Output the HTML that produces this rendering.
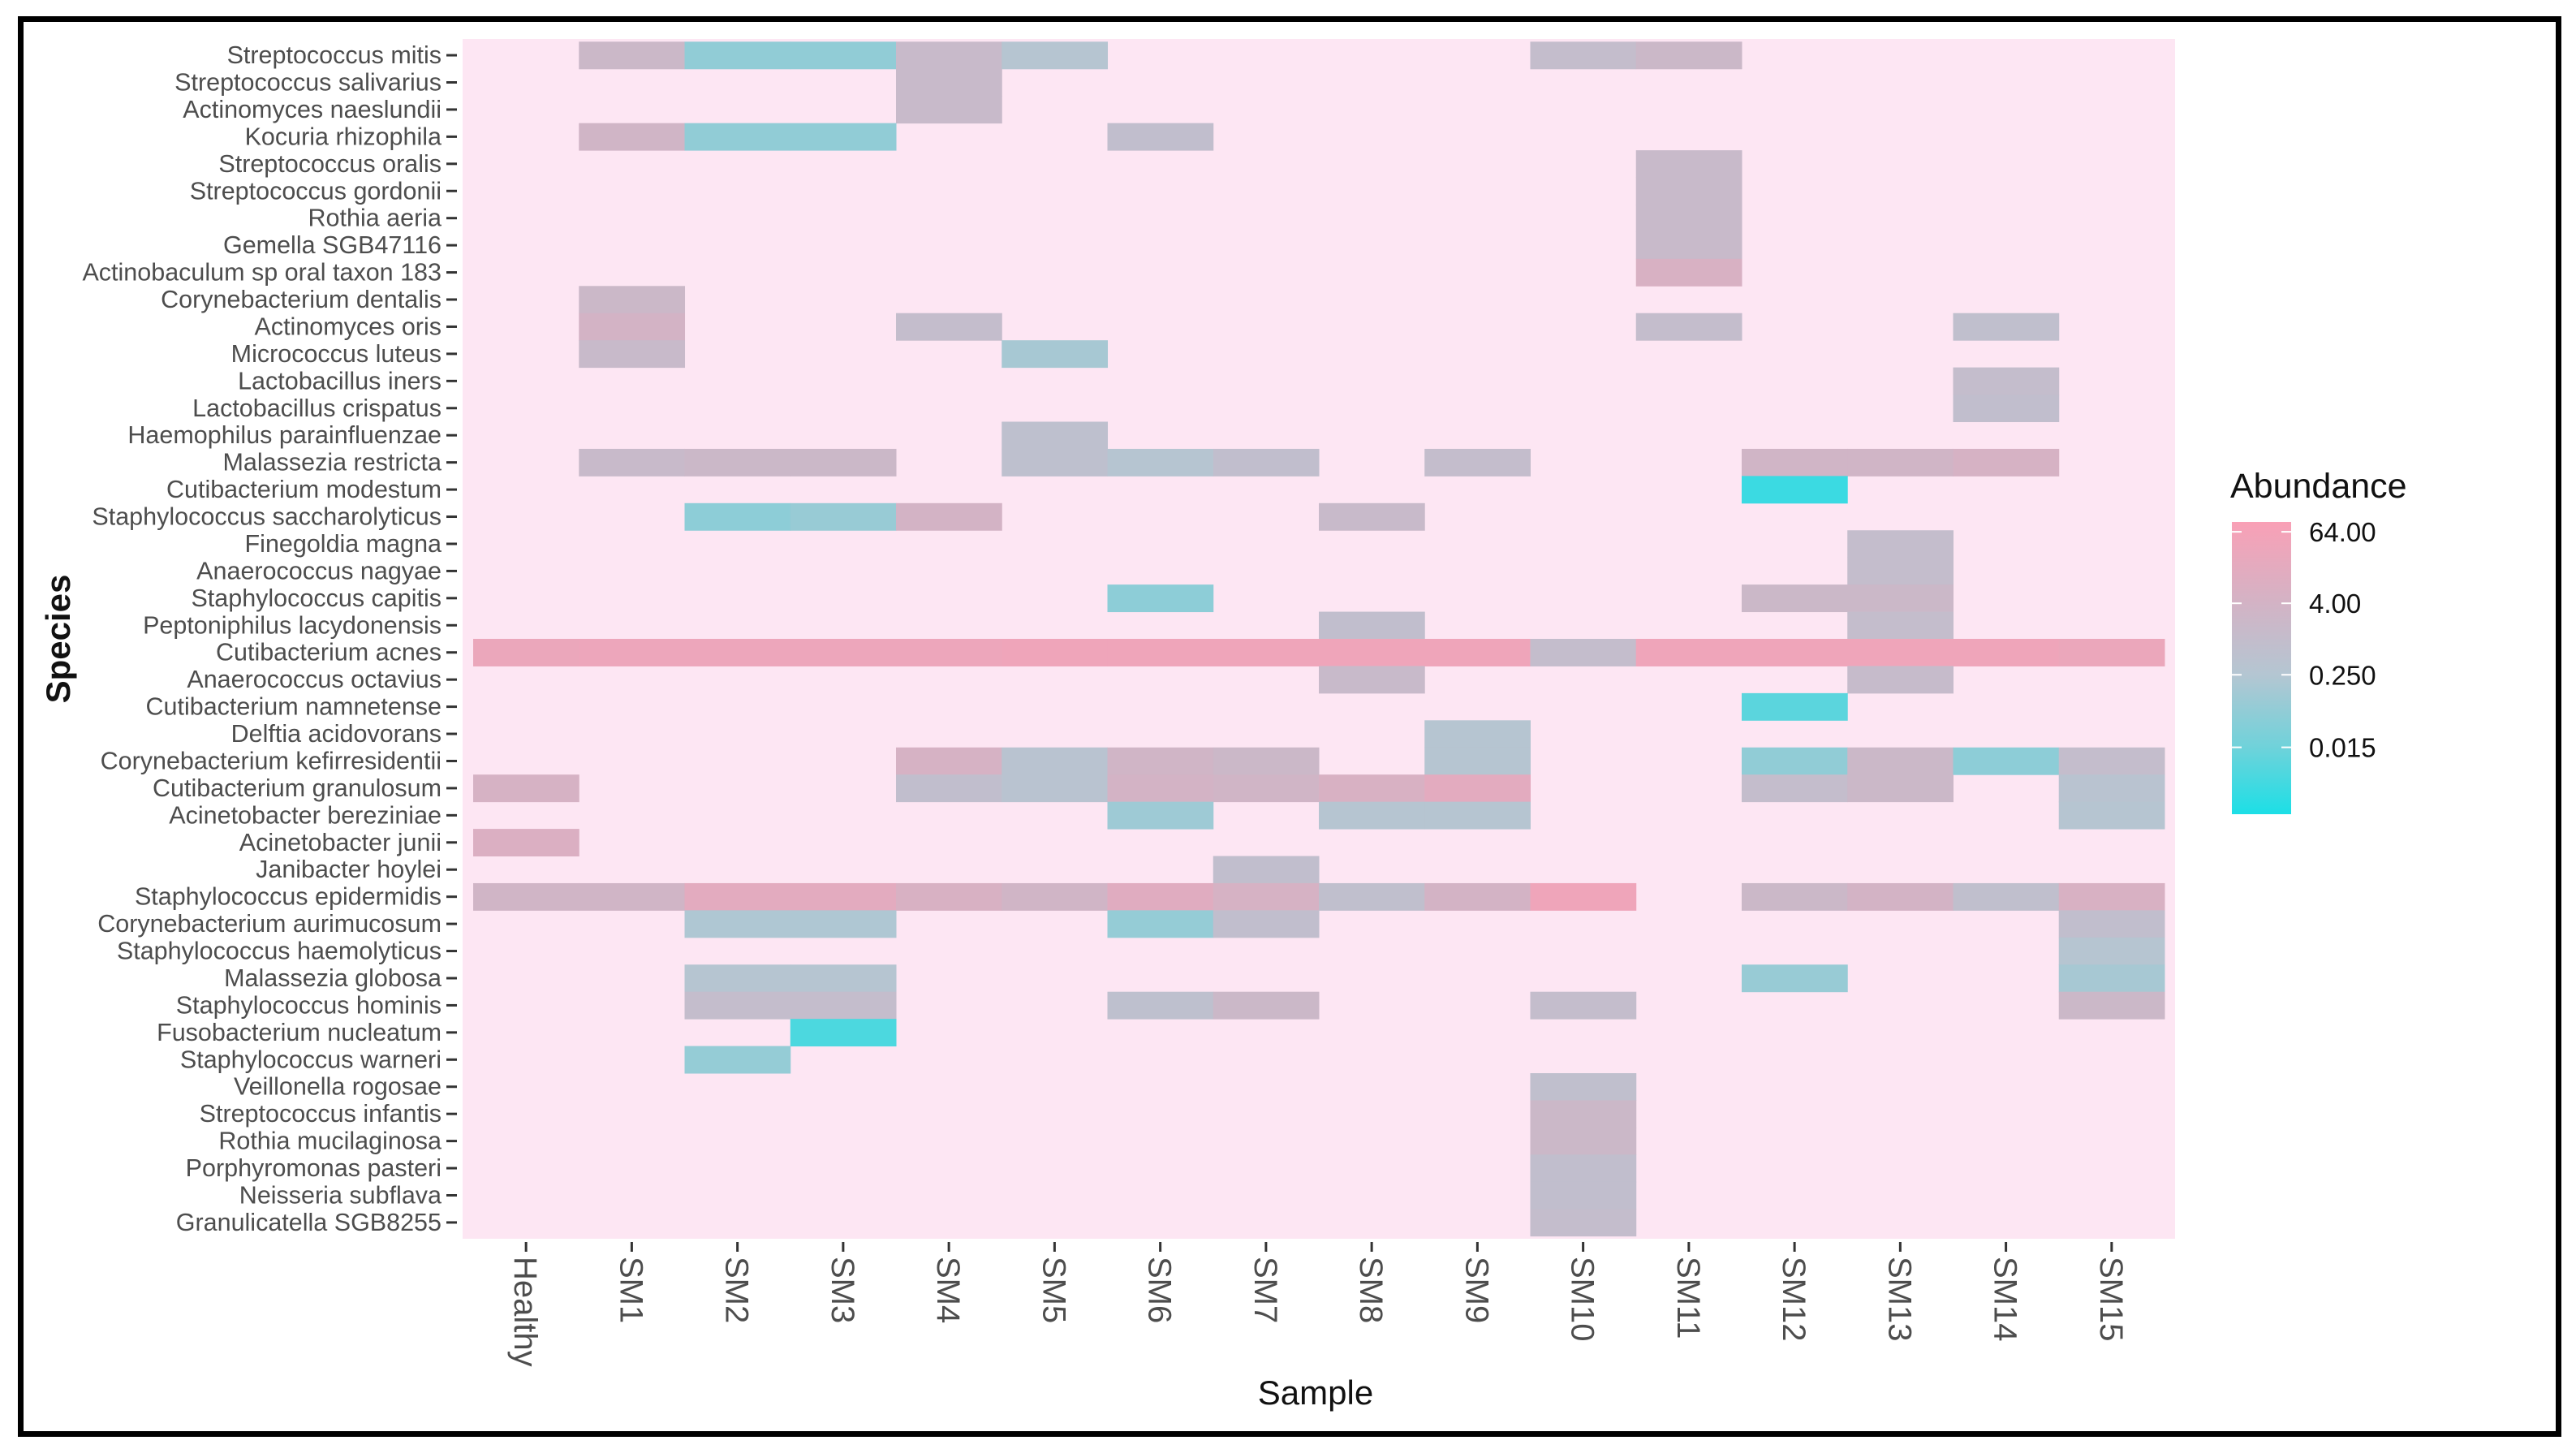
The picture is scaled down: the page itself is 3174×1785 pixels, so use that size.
<!DOCTYPE html>
<html><head><meta charset="utf-8"><style>
html,body{margin:0;padding:0;background:#fff;}
svg{display:block;font-family:"Liberation Sans",sans-serif;}
</style></head><body>
<svg id="chart" width="3174" height="1785" viewBox="0 0 3174 1785" xmlns="http://www.w3.org/2000/svg">
<rect x="25.5" y="23.5" width="3127" height="1743" fill="#fff" stroke="#000" stroke-width="7"/>
<rect x="570" y="48" width="2110" height="1478" fill="#fde6f3"/>
<g id="cells"></g>
<g id="yaxis"></g>
<g id="xaxis"></g>
<text x="1621" y="1730" font-size="42" text-anchor="middle" fill="#111">Sample</text>
<text transform="translate(86,787) rotate(-90)" font-size="42" font-weight="bold" text-anchor="middle" fill="#111">Species</text>
<g>
<defs><linearGradient id="lg" x1="0" y1="1" x2="0" y2="0">
<stop offset="0" stop-color="#1cdfe6"/><stop offset="0.232" stop-color="#70d2da"/><stop offset="0.477" stop-color="#b4c6d2"/><stop offset="0.722" stop-color="#d3b3c5"/><stop offset="1" stop-color="#f9a0b6"/>
</linearGradient></defs>
<text x="2748" y="613" font-size="43" fill="#111">Abundance</text>
<rect x="2750" y="643" width="73" height="360" fill="url(#lg)"/>
<g id="legendticks"></g>
</g>
</svg>
<script>
const species=["Streptococcus mitis","Streptococcus salivarius","Actinomyces naeslundii","Kocuria rhizophila","Streptococcus oralis","Streptococcus gordonii","Rothia aeria","Gemella SGB47116","Actinobaculum sp oral taxon 183","Corynebacterium dentalis","Actinomyces oris","Micrococcus luteus","Lactobacillus iners","Lactobacillus crispatus","Haemophilus parainfluenzae","Malassezia restricta","Cutibacterium modestum","Staphylococcus saccharolyticus","Finegoldia magna","Anaerococcus nagyae","Staphylococcus capitis","Peptoniphilus lacydonensis","Cutibacterium acnes","Anaerococcus octavius","Cutibacterium namnetense","Delftia acidovorans","Corynebacterium kefirresidentii","Cutibacterium granulosum","Acinetobacter bereziniae","Acinetobacter junii","Janibacter hoylei","Staphylococcus epidermidis","Corynebacterium aurimucosum","Staphylococcus haemolyticus","Malassezia globosa","Staphylococcus hominis","Fusobacterium nucleatum","Staphylococcus warneri","Veillonella rogosae","Streptococcus infantis","Rothia mucilaginosa","Porphyromonas pasteri","Neisseria subflava","Granulicatella SGB8255"];
const samples=["Healthy","SM1","SM2","SM3","SM4","SM5","SM6","SM7","SM8","SM9","SM10","SM11","SM12","SM13","SM14","SM15"];
// abundance per species, per sample (0 = absent)
const abundance=[
[0,2,0.06,0.06,1.5,0.3,0,0,0,0,1,2,0,0,0,0],
[0,0,0,0,1.5,0,0,0,0,0,0,0,0,0,0,0],
[0,0,0,0,1.5,0,0,0,0,0,0,0,0,0,0,0],
[0,3,0.06,0.06,0,0,0.8,0,0,0,0,0,0,0,0,0],
[0,0,0,0,0,0,0,0,0,0,0,1.5,0,0,0,0],
[0,0,0,0,0,0,0,0,0,0,0,1.5,0,0,0,0],
[0,0,0,0,0,0,0,0,0,0,0,1.5,0,0,0,0],
[0,0,0,0,0,0,0,0,0,0,0,1.5,0,0,0,0],
[0,0,0,0,0,0,0,0,0,0,0,6,0,0,0,0],
[0,2,0,0,0,0,0,0,0,0,0,0,0,0,0,0],
[0,4,0,0,1,0,0,0,0,0,0,1,0,0,0.7,0],
[0,1.5,0,0,0,0.15,0,0,0,0,0,0,0,0,0,0],
[0,0,0,0,0,0,0,0,0,0,0,0,0,0,1,0],
[0,0,0,0,0,0,0,0,0,0,0,0,0,0,0.8,0],
[0,0,0,0,0,0.6,0,0,0,0,0,0,0,0,0,0],
[0,1.5,2,2,0,0.6,0.3,0.8,0,1,0,0,3,3,5,0],
[0,0,0,0,0,0,0,0,0,0,0,0,0.003,0,0,0],
[0,0,0.05,0.08,4,0,0,0,1.5,0,0,0,0,0,0,0],
[0,0,0,0,0,0,0,0,0,0,0,0,0,1,0,0],
[0,0,0,0,0,0,0,0,0,0,0,0,0,1,0,0],
[0,0,0,0,0,0,0.05,0,0,0,0,0,2,2,0,0],
[0,0,0,0,0,0,0,0,0.8,0,0,0,0,1,0,0],
[30,35,35,35,35,40,40,40,40,40,1,40,40,40,40,30],
[0,0,0,0,0,0,0,0,1.5,0,0,0,0,1.2,0,0],
[0,0,0,0,0,0,0,0,0,0,0,0,0.008,0,0,0],
[0,0,0,0,0,0,0,0,0,0.3,0,0,0,0,0,0],
[0,0,0,0,5,0.4,3,2,0,0.3,0,0,0.06,2,0.05,1],
[5,0,0,0,0.8,0.4,4,3,6,15,0,0,1,2,0,0.4],
[0,0,0,0,0,0,0.1,0,0.3,0.3,0,0,0,0,0,0.3],
[8,0,0,0,0,0,0,0,0,0,0,0,0,0,0,0],
[0,0,0,0,0,0,0,0.8,0,0,0,0,0,0,0,0],
[3,3,15,15,6,3,12,5,0.7,4,40,0,2,4,0.7,6],
[0,0,0.2,0.2,0,0,0.07,0.8,0,0,0,0,0,0,0,0.8],
[0,0,0,0,0,0,0,0,0,0,0,0,0,0,0,0.3],
[0,0,0.3,0.3,0,0,0,0,0,0,0,0,0.08,0,0,0.15],
[0,0,1,1,0,0,0.6,2,0,0,1,0,0,0,0,2],
[0,0,0,0.005,0,0,0,0,0,0,0,0,0,0,0,0],
[0,0,0.07,0,0,0,0,0,0,0,0,0,0,0,0,0],
[0,0,0,0,0,0,0,0,0,0,0.7,0,0,0,0,0],
[0,0,0,0,0,0,0,0,0,0,2,0,0,0,0,0],
[0,0,0,0,0,0,0,0,0,0,2,0,0,0,0,0],
[0,0,0,0,0,0,0,0,0,0,0.8,0,0,0,0,0],
[0,0,0,0,0,0,0,0,0,0,0.8,0,0,0,0,0],
[0,0,0,0,0,0,0,0,0,0,1,0,0,0,0,0]];
const legendTicks=[64,4,0.25,0.015];
const legendLabels=["64.00","4.00","0.250","0.015"];

const NS="http://www.w3.org/2000/svg";
const PX0=570,PX1=2680,PY0=48,PY1=1526;
const xStep=(PX1-PX0)/(samples.length-1+1.2);
const yStep=(PY1-PY0)/(species.length-1+1.2);
function xPos(i){return PX0+(0.6+i)*xStep;}
function yPos(j){return PY0+(0.6+j)*yStep;}
const LMIN=-9.8,LMAX=6.55;
function legY(v){return 1003-(Math.log2(v)-LMIN)/(LMAX-LMIN)*360;}
const stops=[[-9.8,[28,223,230]],[-6,[112,210,218]],[-2,[180,198,210]],[2,[211,179,197]],[6.55,[249,160,182]]];
function color(v){
  let l=Math.max(LMIN,Math.min(LMAX,Math.log2(v)));
  for(let k=0;k<stops.length-1;k++){
    const a=stops[k],b=stops[k+1];
    if(l<=b[0]){const t=(l-a[0])/(b[0]-a[0]);
      const c=a[1].map((x,i)=>Math.round(x+(b[1][i]-x)*t));
      return "rgb("+c.join(",")+")";}
  }
  return "rgb(249,160,182)";
}
const cells=document.getElementById('cells');
abundance.forEach((row,j)=>{row.forEach((v,i)=>{
  if(!v) return;
  const r=document.createElementNS(NS,'rect');
  
  
  r.setAttribute('x',xPos(i)-xStep/2);r.setAttribute('y',yPos(j)-yStep/2);
  r.setAttribute('width',xStep+0.5);r.setAttribute('height',yStep+0.5);
  r.setAttribute('fill',color(v));
  cells.appendChild(r);
});});
const ya=document.getElementById('yaxis');
species.forEach((s,j)=>{
  const t=document.createElementNS(NS,'text');
  
  
  t.setAttribute('x',544);t.setAttribute('y',yPos(j)+10);
  t.setAttribute('font-size','30.5');t.setAttribute('text-anchor','end');t.setAttribute('fill','#4d4d4d');
  t.textContent=s;ya.appendChild(t);
  const l=document.createElementNS(NS,'line');
  
  
  l.setAttribute('x1',550);l.setAttribute('x2',563);l.setAttribute('y1',yPos(j));l.setAttribute('y2',yPos(j));
  l.setAttribute('stroke','#333');l.setAttribute('stroke-width','3');ya.appendChild(l);
});
const xa=document.getElementById('xaxis');
samples.forEach((s,i)=>{
  const l=document.createElementNS(NS,'line');
  
  
  l.setAttribute('x1',xPos(i));l.setAttribute('x2',xPos(i));l.setAttribute('y1',1530);l.setAttribute('y2',1542);
  l.setAttribute('stroke','#333');l.setAttribute('stroke-width','3');xa.appendChild(l);
  const t=document.createElementNS(NS,'text');
  
  
  t.setAttribute('transform','translate('+(xPos(i)-14)+',1548) rotate(90)');
  t.setAttribute('font-size','40');t.setAttribute('fill','#4d4d4d');
  t.textContent=s;xa.appendChild(t);
});
const lt=document.getElementById('legendticks');
legendTicks.forEach((v,k)=>{
  const y=legY(v);
  [[2750,2762],[2811,2823]].forEach(p=>{
    const l=document.createElementNS(NS,'line');
    
    
    l.setAttribute('x1',p[0]);l.setAttribute('x2',p[1]);l.setAttribute('y1',y);l.setAttribute('y2',y);
    l.setAttribute('stroke','#fff');l.setAttribute('stroke-width','2');lt.appendChild(l);
  });
  const t=document.createElementNS(NS,'text');
  
  
  t.setAttribute('x',2845);t.setAttribute('y',y+12);
  t.setAttribute('font-size','33');t.setAttribute('fill','#111');
  t.textContent=legendLabels[k];lt.appendChild(t);
});
</script>
</body></html>
